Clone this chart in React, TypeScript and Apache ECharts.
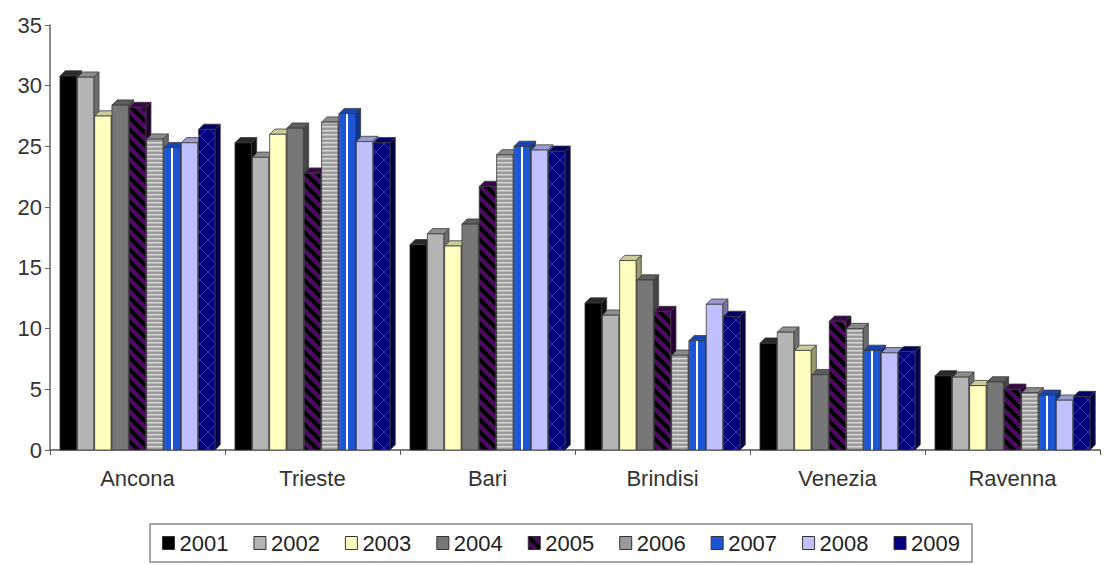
import React, { useEffect, useRef } from "react";
import * as echarts from "echarts";

const categories = ["Ancona", "Trieste", "Bari", "Brindisi", "Venezia", "Ravenna"];
const years = ["2001", "2002", "2003", "2004", "2005", "2006", "2007", "2008", "2009"];
const yTicks = { min: 0, max: 35, interval: 5 };

const v2001 = [30.8, 25.3, 16.9, 12.1, 8.8, 6.1];
const v2002 = [30.7, 24.1, 17.8, 11.1, 9.7, 6.0];
const v2003 = [27.5, 26.0, 16.8, 15.6, 8.2, 5.3];
const v2004 = [28.4, 26.5, 18.6, 14.0, 6.2, 5.6];
const v2005 = [28.2, 22.8, 21.7, 11.4, 10.6, 5.0];
const v2006 = [25.6, 27.0, 24.3, 7.8, 10.0, 4.7];
const v2007 = [24.9, 27.7, 25.0, 9.0, 8.2, 4.5];
const v2008 = [25.3, 25.4, 24.7, 12.0, 8.0, 4.1];
const v2009 = [26.4, 25.3, 24.6, 11.0, 8.1, 4.4];
const seriesValues = [v2001, v2002, v2003, v2004, v2005, v2006, v2007, v2008, v2009];

function makePattern(w: number, h: number, draw: (ctx: CanvasRenderingContext2D) => void): any {
  const c = document.createElement("canvas");
  c.width = w;
  c.height = h;
  const ctx = c.getContext("2d")!;
  draw(ctx);
  return { image: c, repeat: "repeat" };
}

export default function App() {
  const ref = useRef<HTMLDivElement>(null);
  useEffect(() => {
    if (!ref.current) return;
    const chart = echarts.init(ref.current, undefined, { renderer: "svg" });

    const stripes2005 = makePattern(12, 12, (ctx) => {
      ctx.fillStyle = "#4c0a62";
      ctx.fillRect(0, 0, 12, 12);
      ctx.strokeStyle = "#000000";
      ctx.lineWidth = 4;
      for (let k = -1; k <= 1; k++) {
        ctx.beginPath();
        ctx.moveTo(k * 12 - 2, -2);
        ctx.lineTo(k * 12 + 14, 14);
        ctx.stroke();
      }
    });
    const stripes2006 = makePattern(4, 4, (ctx) => {
      ctx.fillStyle = "#9a9a9a";
      ctx.fillRect(0, 0, 4, 4);
      ctx.fillStyle = "#d6d6d6";
      ctx.fillRect(0, 2, 4, 1);
      ctx.fillStyle = "#b8b8b8";
      ctx.fillRect(0, 3, 4, 1);
    });
    const lattice2009 = makePattern(16, 16, (ctx) => {
      ctx.fillStyle = "#00007e";
      ctx.fillRect(0, 0, 16, 16);
      ctx.strokeStyle = "#3a3ab4";
      ctx.lineWidth = 1;
      ctx.beginPath();
      ctx.moveTo(0, 0);
      ctx.lineTo(16, 16);
      ctx.moveTo(16, 0);
      ctx.lineTo(0, 16);
      ctx.stroke();
    });
    const blue2007 = {
      type: "linear",
      x: 0,
      y: 0,
      x2: 1,
      y2: 0,
      colorStops: [
        { offset: 0, color: "#3a70e8" },
        { offset: 0.12, color: "#1c55d6" },
        { offset: 0.42, color: "#1c55d6" },
        { offset: 0.43, color: "#ffffff" },
        { offset: 0.56, color: "#ffffff" },
        { offset: 0.57, color: "#1c55d6" },
        { offset: 1, color: "#1c55d6" },
      ],
    };

    const fronts: any[] = [
      "#000000",
      "#b4b4b4",
      "#ffffc0",
      "#777777",
      stripes2005,
      stripes2006,
      blue2007,
      "#c0c0ff",
      lattice2009,
    ];
    const tops = ["#2a2a2a", "#8e8e8e", "#cccc9a", "#5e5e5e", "#3a0848", "#8a8a8a", "#1644b0", "#9a9acc", "#000066"];
    const sides = ["#111111", "#6e6e6e", "#9a9a70", "#464646", "#260030", "#6a6a6a", "#10348a", "#7474a0", "#00004a"];
    const legendColors: any[] = [
      "#000000",
      "#b4b4b4",
      "#ffffc0",
      "#777777",
      stripes2005,
      "#9a9a9a",
      "#1c55d6",
      "#c0c0ff",
      "#00007e",
    ];

    const n = years.length;
    const series = years.map((y, i) => ({
      type: "custom",
      name: y,
      encode: { x: 0, y: 1 },
      data: seriesValues[i].map((v, ci) => [ci, v]),
      itemStyle: { color: legendColors[i] },
      renderItem: (params: any, api: any) => {
        const cat = api.value(0);
        const val = api.value(1);
        const base = api.coord([cat, 0]);
        const top = api.coord([cat, val]);
        const band = api.size([1, 0])[0];
        const pitch = band * 0.099;
        const w = band * 0.094;
        const d = band * 0.03;
        const x0 = base[0] + (i - (n - 1) / 2) * pitch - w / 2;
        const x1 = x0 + w;
        const yt = top[1];
        const yb = base[1];
        const stroke = "#3a3a3a";
        return {
          type: "group",
          children: [
            {
              type: "polygon",
              shape: { points: [[x1, yt], [x1 + d, yt - d], [x1 + d, yb - d], [x1, yb]] },
              style: { fill: sides[i], stroke, lineWidth: 0.8 },
            },
            {
              type: "polygon",
              shape: { points: [[x0, yt], [x0 + d, yt - d], [x1 + d, yt - d], [x1, yt]] },
              style: { fill: tops[i], stroke, lineWidth: 0.8 },
            },
            {
              type: "rect",
              shape: { x: x0, y: yt, width: w, height: yb - yt },
              style: { fill: fronts[i], stroke, lineWidth: 0.8 },
            },
          ],
        };
      },
    }));

    const font = "'Liberation Sans', Arial, sans-serif";
    chart.setOption({
      animation: false,
      grid: { left: 50, right: 4, top: 25, bottom: 115, containLabel: false },
      xAxis: {
        type: "category",
        data: categories,
        axisLine: { lineStyle: { color: "#555555", width: 1.5 } },
        axisTick: { show: true, length: 5, lineStyle: { color: "#555555" } },
        axisLabel: { color: "#333333", fontSize: 22, fontFamily: font, margin: 17 },
      },
      yAxis: {
        type: "value",
        min: yTicks.min,
        max: yTicks.max,
        interval: yTicks.interval,
        splitLine: { show: false },
        axisLine: { show: true, lineStyle: { color: "#666666", width: 1.5 } },
        axisTick: { show: true, length: 5, lineStyle: { color: "#666666" } },
        axisLabel: { color: "#333333", fontSize: 22, fontFamily: font, margin: 8 },
      },
      legend: {
        data: years.map((y, i) => ({
          name: y,
          icon: "rect",
          itemStyle: { color: legendColors[i], borderColor: "#333333", borderWidth: 1 },
        })),
        left: 150,
        top: 524,
        itemWidth: 12,
        itemHeight: 13,
        itemGap: 25,
        padding: [8, 12],
        borderColor: "#8a8a8a",
        borderWidth: 1.5,
        textStyle: { color: "#222222", fontSize: 22, fontFamily: font },
      },
      series,
    });
    return () => chart.dispose();
  }, []);
  return (
    <div
      ref={ref}
      style={{ position: "fixed", left: 0, top: 0, width: 1104, height: 565, background: "#ffffff" }}
    />
  );
}
